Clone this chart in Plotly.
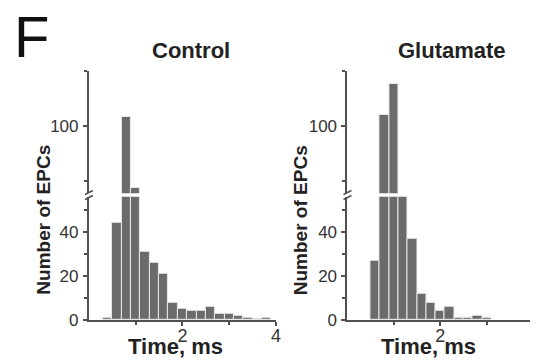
import plotly.graph_objects as go

# ---- data ----
control_time = [0.4, 0.6, 0.8, 1.0, 1.2, 1.4, 1.6, 1.8, 2.0, 2.2, 2.4, 2.6, 2.8, 3.0, 3.2, 3.4, 3.6, 3.8]
control_count = [1, 44, 104, 72, 31, 26, 21, 8, 5, 4, 4, 6, 3, 3, 2, 1, 0.5, 1]

glut_time = [0.6, 0.8, 1.0, 1.2, 1.4, 1.6, 1.8, 2.0, 2.2, 2.4, 2.6, 2.8, 3.0]
glut_count = [27, 105, 119, 62, 37, 12, 8, 4, 6, 1, 1, 2, 1]

panel_titles = ["Control", "Glutamate"]
x_title = "Time, ms"
y_title = "Number of EPCs"
x_ticks = [2, 4]
x_minor = [1, 3]
low_ticks = [0, 20, 40]
low_minor = [10, 30, 50]
up_ticks = [100]
up_minor = [75, 125]

# page has an 8px body margin: work in window pixels and shift
OFF = 8
W, H = 538 - OFF, 362 - OFF
BAR = "#6b6b6b"
AX = "#505050"
TXT = "#222222"
FONT = "Liberation Sans, Arial, sans-serif"

top, bottom = 71 - OFF, 320 - OFF
ph = bottom - top

def px(xw):  # window x -> paper x
    return (xw - OFF) / W

def py(yw):  # window y -> paper y (paper spans plot area vertically)
    return (bottom - (yw - OFF)) / ph

fig = go.Figure()

panels = [
    dict(x="x", ylo="y", yup="y2", t=control_time, c=control_count),
    dict(x="x2", ylo="y3", yup="y4", t=glut_time, c=glut_count),
]
for p in panels:
    for ya in (p["ylo"], p["yup"]):
        fig.add_trace(go.Bar(
            x=p["t"], y=p["c"], xaxis=p["x"], yaxis=ya, width=0.2,
            marker=dict(color=BAR, line=dict(color="#e8e8e8", width=1)),
            showlegend=False, hoverinfo="skip"))

lo_top = py(196.8)
up_bot = py(193.3)

xdoms = [[px(89.7), px(278.5)], [px(350.7), 1.0]]

def xax(dom, anchor):
    return dict(domain=dom, range=[0, 4], anchor=anchor,
                tickmode="array", tickvals=x_ticks, ticktext=[str(v) for v in x_ticks],
                minor=dict(tickmode="array", tickvals=x_minor, ticks="outside", ticklen=3,
                           tickcolor=AX, tickwidth=1.5),
                showline=True, linecolor=AX, linewidth=2, ticks="outside", ticklen=4,
                tickwidth=1.5, tickcolor=AX, showgrid=False, zeroline=False,
                ticklabelstandoff=-6,
                tickfont=dict(size=18, color="#333", family=FONT))

def yax(dom, rng, tv, mv, anchor):
    return dict(domain=dom, range=rng, anchor=anchor,
                tickmode="array", tickvals=tv, ticktext=[str(v) for v in tv],
                minor=dict(tickmode="array", tickvals=mv, ticks="outside", ticklen=3,
                           tickcolor=AX, tickwidth=1.5),
                showline=True, linecolor=AX, linewidth=2, ticks="outside", ticklen=4,
                tickwidth=1.5, tickcolor=AX, showgrid=False, zeroline=False,
                ticklabelstandoff=1,
                tickfont=dict(size=17, color="#333", family=FONT))

fig.update_layout(
    width=W, height=H,
    margin=dict(l=0, r=0, t=top, b=H - bottom),
    paper_bgcolor="white", plot_bgcolor="white",
    bargap=0,
    xaxis=xax(xdoms[0], "y"),
    xaxis2=xax(xdoms[1], "y3"),
    yaxis=yax([0, lo_top], [0, 56], low_ticks, low_minor, "x"),
    yaxis2=yax([up_bot, 1], [69.4, 125], up_ticks, up_minor, "x"),
    yaxis3=yax([0, lo_top], [0, 56], low_ticks, low_minor, "x2"),
    yaxis4=yax([up_bot, 1], [69.4, 125], up_ticks, up_minor, "x2"),
    font=dict(family=FONT),
)

ann = []
ann.append(dict(text="F", x=px(12), y=py(36), xref="paper", yref="paper",
                xanchor="left", yanchor="middle", showarrow=False,
                font=dict(size=58, color="#111", family=FONT)))
title_x = [193, 456]
ytitle_x = [43, 303]
xtitle_x = [177, 432]
for i in range(2):
    ann.append(dict(text="<b>%s</b>" % panel_titles[i], x=px(title_x[i]), y=py(51),
                    xref="paper", yref="paper", xanchor="center", yanchor="middle",
                    showarrow=False, font=dict(size=22, color=TXT, family=FONT)))
    ann.append(dict(text="<b>%s</b>" % y_title, x=px(ytitle_x[i]), y=py(220),
                    xref="paper", yref="paper", xanchor="center", yanchor="middle",
                    textangle=-90, showarrow=False, font=dict(size=19, color=TXT, family=FONT)))
    ann.append(dict(text="<b>%s</b>" % x_title, x=px(xtitle_x[i]), y=py(346),
                    xref="paper", yref="paper", xanchor="center", yanchor="middle",
                    showarrow=False, font=dict(size=22, color=TXT, family=FONT)))
fig.update_layout(annotations=ann)

# axis-break marks
shapes = []
for i in range(2):
    ax_x = xdoms[i][0]
    for yc in (192.5, 197.5):
        shapes.append(dict(type="line", xref="paper", yref="paper",
                           x0=ax_x - 4 / W, x1=ax_x + 4 / W,
                           y0=py(yc + 2), y1=py(yc - 2),
                           line=dict(color=AX, width=1.5)))
fig.update_layout(shapes=shapes)

fig.write_html("out.html")
